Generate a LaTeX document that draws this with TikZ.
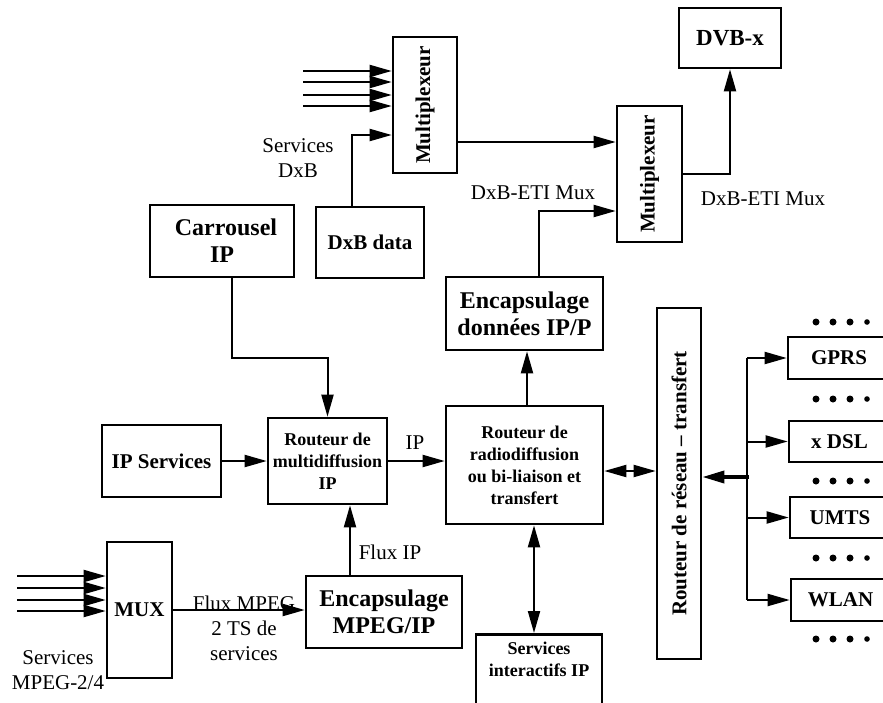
\documentclass[tikz,border=0pt]{standalone}
\usepackage{fontspec}
\setmainfont{Liberation Serif}
\usepackage{graphicx}
\usetikzlibrary{arrows.meta}

\begin{document}
\begin{tikzpicture}[x=1pt, y=-1pt,
box/.style={draw, line width=2.6pt, align=center, inner sep=2pt, font=\bfseries\fontsize{21}{25}\selectfont},
bigbox/.style={box, font=\bfseries\fontsize{24}{27}\selectfont},
smallbox/.style={box, font=\bfseries\fontsize{18}{22}\selectfont},
note/.style={align=center, inner sep=1pt, font=\fontsize{21}{25}\selectfont},
arrow/.style={-{Triangle[length=22pt, width=12pt]}, line width=2pt},
dblarrow/.style={{Triangle[length=22pt, width=12pt]}-{Triangle[length=22pt, width=12pt]}, line width=2pt}]
\useasboundingbox (0,0) rectangle (883,702);
\clip (0,0) rectangle (883,702);
% upper part: DxB multiplexing
\node[box, minimum width=64pt, minimum height=136pt] (mux1) at (425,105) {\rotatebox{90}{Multiplexeur}};
\node[box, minimum width=65pt, minimum height=136pt] (mux2) at (649.5,174) {\rotatebox{90}{Multiplexeur}};
\node[box, font=\bfseries\fontsize{23}{27}\selectfont, minimum width=102pt, minimum height=60pt] (dvb) at (730,38) {DVB-x};
\node[bigbox, minimum width=144pt, minimum height=72pt] (carrousel) at (222,241) {\hspace*{8pt}Carrousel\\IP};
\node[box, minimum width=108pt, minimum height=71pt] (dxbdata) at (370,242.5) {DxB data};
\node[bigbox, minimum width=157pt, minimum height=73pt] (encdata) at (524.5,313.5) {Encapsulage\\données IP/P};
% routers
\node[smallbox, minimum width=119pt, minimum height=86pt] (routmul) at (327.5,461) {Routeur de\\multidiffusion\\IP};
\node[smallbox, minimum width=157pt, minimum height=118pt] (routrad) at (524.5,465) {Routeur de\\radiodiffusion\\ou bi-liaison et\\transfert};
\node[box, minimum width=44pt, minimum height=351pt] (routres) at (679,483.5) {\rotatebox{90}{Routeur de réseau – transfert}};
\node[smallbox, anchor=north, minimum width=126pt, inner ysep=8pt, text depth=80pt] (servint) at (539,633) {Services\\interactifs IP};
% lower left
\node[box, minimum width=119pt, minimum height=72pt] (ipserv) at (161.5,461) {IP Services};
\node[box, minimum width=65pt, minimum height=136pt] (mux) at (139.5,610) {MUX};
\node[bigbox, minimum width=156pt, minimum height=72pt] (encmpeg) at (384,612) {Encapsulage\\MPEG/IP};
% access networks
\node[box, minimum width=102pt, minimum height=42pt] (gprs) at (839,358) {GPRS};
\node[box, minimum width=101pt, minimum height=41pt] (xdsl) at (839.5,441.5) {x DSL};
\node[box, minimum width=100pt, minimum height=41pt] (umts) at (840,517.5) {UMTS};
\node[box, minimum width=99pt, minimum height=42pt] (wlan) at (840.5,600) {WLAN};
% labels
\node[note] (srvdxb) at (298,158) {Services\\DxB};
\node[note] (eti1) at (533,193) {DxB-ETI Mux};
\node[note] (eti2) at (763,199) {DxB-ETI Mux};
\node[note] (iplab) at (415,443) {IP};
\node[note] (fluxip) at (390,552) {Flux IP};
\node[note] (srvmpeg) at (58,670) {Services\\MPEG-2/4};
\node[note] (fluxmpeg) at (244,628) {Flux MPEG\\2 TS de\\services};
% connectors
\foreach \y [count=\i] in {71,82,95,106} {
  \coordinate (src\i) at (303,\y);
  \draw[arrow] (src\i) -- (src\i -| mux1.west);
}
\foreach \y [count=\i] in {576,588,600,611} {
  \coordinate (mpeg\i) at (17,\y);
  \draw[arrow] (mpeg\i) -- (mpeg\i -| mux.west);
}
\draw[arrow] ([xshift=-18pt]dxbdata.north) |- ([yshift=-30pt]mux1.west);
\draw[arrow] ([yshift=-37pt]mux1.east) -- ([yshift=-37pt]mux1.east -| mux2.west);
\draw[arrow] ([xshift=14.5pt]encdata.north) |- ([yshift=-37pt]mux2.west);
\draw[arrow] (mux2.east) -| (dvb.south);
\draw[arrow] ([xshift=10pt]carrousel.south) -- ++(0,80) -| (routmul.north);
\draw[arrow] (ipserv.east) -- (ipserv.east -| routmul.west);
\draw[arrow] (routmul.east) -- (routmul.east -| routrad.west);
\draw[arrow] ([xshift=-34pt]encmpeg.north) -- ([xshift=-34pt]encmpeg.north |- routmul.south);
\draw[arrow] (mux.east) -- (mux.east -| encmpeg.west);
\draw[arrow] ([xshift=2.5pt]routrad.north) -- ([xshift=2.5pt]routrad.north |- encdata.south);
\draw[dblarrow] ([xshift=9.5pt]routrad.south) -- ([xshift=9.5pt]routrad.south |- servint.north);
\draw[dblarrow] ([yshift=-6pt]routrad.east) -- ([yshift=-6pt]routrad.east -| routres.west);
\coordinate (bus) at (747,477);
\draw[line width=2.6pt] (gprs.west -| bus) -- (wlan.west -| bus);
\foreach \n in {gprs,xdsl,umts,wlan}
  \draw[arrow] (\n.west -| bus) -- (\n.west);
\draw[arrow, line width=3.5pt] ([xshift=2pt]bus) -- (bus -| routres.east);
% dots
\foreach \y in {322,399,481,558,639} {
  \foreach \x in {816,833,850}
    \fill (\x,\y) circle (3.5pt);
  \fill (867,\y) circle (2.8pt);
}
\end{tikzpicture}
\end{document}
